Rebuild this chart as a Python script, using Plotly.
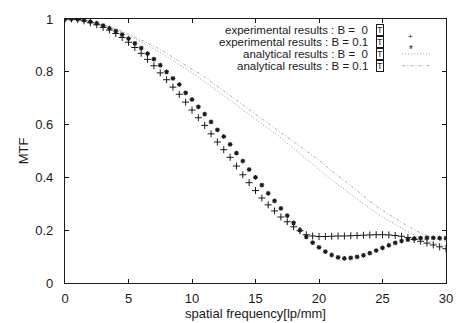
import plotly.graph_objects as go

# ---- data ----
x_exp = [i * 0.5 for i in range(61)]
mtf_exp_b0 = [1.0, 1.0, 0.998, 0.993, 0.986, 0.978, 0.968, 0.958, 0.945, 0.93,
              0.912, 0.892, 0.87, 0.847, 0.823, 0.796, 0.77, 0.742, 0.715, 0.685,
              0.655, 0.626, 0.597, 0.565, 0.534, 0.505, 0.476, 0.443, 0.41, 0.38,
              0.35, 0.322, 0.296, 0.273, 0.25, 0.232, 0.213, 0.198, 0.183, 0.178,
              0.176, 0.176, 0.177, 0.178, 0.178, 0.179, 0.18, 0.181, 0.182, 0.183,
              0.183, 0.182, 0.18, 0.177, 0.172, 0.165, 0.158, 0.151, 0.144, 0.137,
              0.13]
mtf_exp_b01 = [1.0, 1.0, 0.999, 0.996, 0.99, 0.984, 0.975, 0.965, 0.954, 0.941,
               0.926, 0.908, 0.89, 0.869, 0.848, 0.825, 0.8, 0.775, 0.752, 0.72,
               0.695, 0.667, 0.64, 0.61, 0.58, 0.555, 0.525, 0.492, 0.462, 0.43,
               0.4, 0.371, 0.34, 0.311, 0.283, 0.255, 0.228, 0.2, 0.175, 0.153,
               0.135, 0.119, 0.106, 0.097, 0.093, 0.095, 0.099, 0.105, 0.113, 0.123,
               0.133, 0.143, 0.152, 0.159, 0.164, 0.168, 0.17, 0.171, 0.171, 0.17,
               0.17]
x_ana = list(range(31))
mtf_ana_b0 = [1.0, 0.997, 0.988, 0.975, 0.958, 0.937, 0.913, 0.887, 0.858, 0.827,
              0.795, 0.762, 0.727, 0.692, 0.656, 0.62, 0.585, 0.55, 0.51, 0.47,
              0.43, 0.39, 0.355, 0.318, 0.283, 0.25, 0.222, 0.195, 0.17, 0.152, 0.14]
mtf_ana_b01 = [1.0, 0.998, 0.99, 0.978, 0.962, 0.943, 0.92, 0.897, 0.87, 0.84,
               0.81, 0.78, 0.745, 0.71, 0.675, 0.64, 0.605, 0.57, 0.535, 0.5,
               0.465, 0.425, 0.388, 0.35, 0.31, 0.275, 0.245, 0.215, 0.19, 0.17, 0.155]
x_ticks = [0, 5, 10, 15, 20, 25, 30]
y_ticks = [0, 0.2, 0.4, 0.6, 0.8, 1]
legend_labels = ["experimental results : B =\u00a0 0",
                 "experimental results : B = 0.1",
                 "analytical results : B =\u00a0 0",
                 "analytical results : B = 0.1"]

FONT = "Liberation Sans, Arial, sans-serif"
INK = "#1a1a1a"
GREY0 = "#9a9a9a"
GREY1 = "#b0b0b0"
DASH0 = "1px,2px"
DASH1 = "3px,2px,1px,2px"

fig = go.Figure()
fig.add_trace(go.Scatter(x=x_ana, y=mtf_ana_b0, mode="lines", line_shape="spline",
                         line=dict(color=GREY0, width=1, dash=DASH0)))
fig.add_trace(go.Scatter(x=x_ana, y=mtf_ana_b01, mode="lines", line_shape="spline",
                         line=dict(color=GREY1, width=1, dash=DASH1)))
fig.add_trace(go.Scatter(x=x_exp, y=mtf_exp_b0, mode="markers",
                         marker=dict(symbol="cross-thin", size=5, color=INK,
                                     line=dict(color=INK, width=1))))
fig.add_trace(go.Scatter(x=x_exp, y=mtf_exp_b01, mode="markers",
                         marker=dict(symbol="asterisk-open", size=4, color=INK,
                                     line=dict(color=INK, width=1.1))))

# legend (gnuplot style: text, then sample on the right)
ys = [0.958, 0.913, 0.868, 0.823]
for lab, yy in zip(legend_labels, ys):
    fig.add_annotation(xref="paper", yref="paper", x=0.8005, y=yy, text=lab,
                       showarrow=False, xanchor="right", yanchor="middle",
                       font=dict(family=FONT, size=11.5, color=INK))
    fig.add_annotation(xref="paper", yref="paper", x=0.827, y=yy, text="T",
                       showarrow=False, xanchor="center", yanchor="middle",
                       bordercolor=INK, borderwidth=1, borderpad=0,
                       font=dict(family=FONT, size=9, color=INK))
fig.add_annotation(xref="paper", yref="paper", x=0.919, y=ys[0], text="+",
                   showarrow=False, font=dict(family=FONT, size=8, color=INK))
fig.add_annotation(xref="paper", yref="paper", x=0.919, y=ys[1], text="*",
                   showarrow=False, font=dict(family=FONT, size=10, color=INK))
fig.add_shape(type="line", xref="paper", yref="paper", x0=0.885, x1=0.958,
              y0=ys[2], y1=ys[2], line=dict(color=GREY0, width=1, dash=DASH0))
fig.add_shape(type="line", xref="paper", yref="paper", x0=0.885, x1=0.958,
              y0=ys[3], y1=ys[3], line=dict(color=GREY1, width=1, dash=DASH1))

axis_common = dict(showline=True, linecolor=INK, linewidth=1.3, mirror="ticks",
                   ticks="inside", ticklen=4, tickwidth=1, tickcolor=INK,
                   showgrid=False, zeroline=False, automargin=False,
                   tickfont=dict(family=FONT, size=13, color=INK))
fig.update_xaxes(range=[0, 30], tickvals=x_ticks, ticklabelstandoff=3,
                 title=dict(text="spatial frequency[lp/mm]", standoff=4,
                            font=dict(family=FONT, size=13, color=INK)),
                 **axis_common)
fig.update_yaxes(range=[0, 1], tickvals=y_ticks, ticklabelstandoff=8,
                 title=dict(text="MTF", standoff=3,
                            font=dict(family=FONT, size=13, color=INK)),
                 **axis_common)
fig.update_layout(width=457, height=323, showlegend=False,
                  margin=dict(l=65, r=11, t=19, b=40, autoexpand=False),
                  paper_bgcolor="white", plot_bgcolor="white")
fig.write_html("out.html", config={"displayModeBar": False},
               post_script="document.body.style.margin='0px';")
